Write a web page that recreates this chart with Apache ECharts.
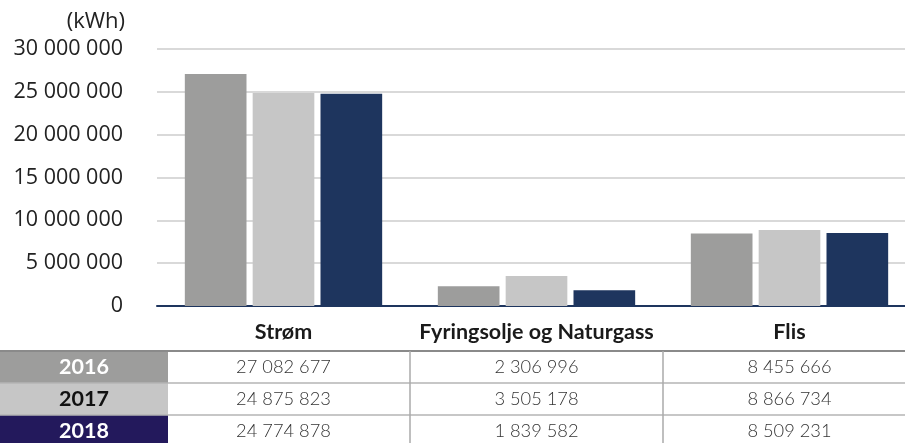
<!DOCTYPE html>
<html>
<head>
<meta charset="utf-8">
<script src="https://cdn.jsdelivr.net/npm/echarts@6/dist/echarts.min.js"></script>
<style>
  html, body { margin: 0; padding: 0; background: #fff; }
  #main { width: 905px; height: 443px; }
</style>
</head>
<body>
<div id="main"></div>
<script>
const categories = ['Strøm', 'Fyringsolje og Naturgass', 'Flis']
const years = ['2016', '2017', '2018']
const values2016 = [27082677, 2306996, 8455666]
const values2017 = [24875823, 3505178, 8866734]
const values2018 = [24774878, 1839582, 8509231]
const yTicks = [0, 5000000, 10000000, 15000000, 20000000, 25000000, 30000000]

const barColors = ['#9d9d9c', '#c6c6c6', '#1e355e']
const yearCellColors = ['#9d9d9c', '#c6c6c6', '#23195c']
const yearTextColors = ['#ffffff', '#111111', '#ffffff']

// 27082677 -> "27 082 677"
function fmt (v) {
  return String(v).replace(/\B(?=(\d{3})+(?!\d))/g, ' ')
}

const chart = echarts.init(document.getElementById('main'))
const allValues = [values2016, values2017, values2018]

const option = {
  animation: false,
  grid: { left: 157, width: 759, top: 49, height: 257, containLabel: false, outerBoundsMode: 'none' },
  xAxis: {
    type: 'category',
    data: categories,
    axisTick: { show: false },
    axisLine: { lineStyle: { color: '#1e355e', width: 2 } },
    axisLabel: {
      interval: 0,
      margin: 15,
      fontFamily: 'Lato',
      fontWeight: 'bold',
      fontSize: 21.5,
      color: '#1a1a1a'
    }
  },
  yAxis: {
    type: 'value',
    min: yTicks[0],
    max: yTicks[yTicks.length - 1],
    interval: yTicks[1] - yTicks[0],
    name: '(kWh)',
    nameGap: 16,
    nameTextStyle: {
      fontFamily: 'Open Sans',
      fontSize: 22,
      color: '#222',
      align: 'right',
      padding: [0, 32, 0, 0]
    },
    axisLabel: {
      margin: 34,
      fontFamily: 'Open Sans',
      fontSize: 21.5,
      color: '#222',
      padding: [4, 0, 0, 0],
      formatter: fmt
    },
    splitLine: { lineStyle: { color: '#d9d9d9', width: 2 } }
  },
  series: years.map((y, i) => ({
    name: y,
    type: 'bar',
    data: allValues[i],
    barGap: '10%',
    barCategoryGap: '22%',
    itemStyle: { color: barColors[i] }
  }))
}
chart.setOption(option)

// data table under the chart, columns aligned to the category axis
function buildTable () {
  const els = []
  const tableTop = 351
  const rowH = 32
  const firstColW = 168
  const centers = categories.map((c) => chart.convertToPixel({ xAxisIndex: 0 }, c))
  const bounds = [firstColW]
  for (let i = 0; i < centers.length - 1; i++) bounds.push((centers[i] + centers[i + 1]) / 2)
  bounds.push(905)

  years.forEach((y, r) => {
    const top = tableTop + r * rowH
    els.push({
      type: 'rect',
      shape: { x: 0, y: top, width: firstColW, height: rowH },
      style: { fill: yearCellColors[r] }
    })
    els.push({
      type: 'text',
      x: firstColW / 2,
      y: top + rowH / 2,
      style: {
        text: y,
        align: 'center',
        verticalAlign: 'middle',
        fontFamily: 'Lato',
        fontWeight: 'bold',
        fontSize: 21.5,
        fill: yearTextColors[r]
      }
    })
    allValues[r].forEach((v, c) => {
      els.push({
        type: 'text',
        x: centers[c],
        y: top + rowH / 2,
        style: {
          text: fmt(v),
          align: 'center',
          verticalAlign: 'middle',
          fontFamily: 'Lato',
          fontWeight: 300,
          fontSize: 18.3,
          fill: '#333'
        }
      })
    })
    els.push({
      type: 'line',
      shape: { x1: 0, y1: top, x2: 905, y2: top },
      style: { stroke: r === 0 ? '#8a8a8a' : '#b5b5b5', lineWidth: r === 0 ? 2 : 1.5 }
    })
  })
  for (let i = 1; i < bounds.length - 1; i++) {
    els.push({
      type: 'line',
      shape: { x1: bounds[i], y1: tableTop, x2: bounds[i], y2: 443 },
      style: { stroke: '#aaaaaa', lineWidth: 1.5 }
    })
  }
  chart.setOption({ graphic: { elements: els } })
}
buildTable()
</script>
</body>
</html>
